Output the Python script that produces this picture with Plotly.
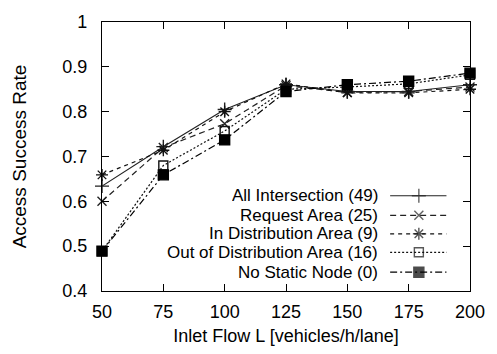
import plotly.graph_objects as go

inlet_flow = [50, 75, 100, 125, 150, 175, 200]
all_intersection = [0.634, 0.722, 0.805, 0.860, 0.845, 0.845, 0.860]
request_area = [0.600, 0.720, 0.773, 0.858, 0.843, 0.845, 0.855]
in_distribution = [0.659, 0.714, 0.800, 0.862, 0.842, 0.842, 0.850]
out_distribution = [0.489, 0.680, 0.757, 0.850, 0.855, 0.862, 0.882]
no_static_node = [0.489, 0.659, 0.737, 0.845, 0.860, 0.868, 0.886]

series_names = ["All Intersection (49)", "Request Area (25)", "In Distribution Area (9)",
                "Out of Distribution Area (16)", "No Static Node (0)"]
series_values = [all_intersection, request_area, in_distribution, out_distribution, no_static_node]

x_ticks = [50, 75, 100, 125, 150, 175, 200]
y_ticks = [0.4, 0.5, 0.6, 0.7, 0.8, 0.9, 1.0]
y_tick_text = ["0.4", "0.5", "0.6", "0.7", "0.8", "0.9", "1"]

styles = [
    dict(dash="solid", symbol="cross-thin", size=10, color="#222"),
    dict(dash="6px,4px", symbol="x-thin", size=9, color="#222"),
    dict(dash="4px,4px", symbol="asterisk", size=10, color="#111"),
    dict(dash="2px,2px", symbol="square-open", size=9, color="#111"),
    dict(dash="7px,3px,2px,3px", symbol="square", size=10, color="#000"),
]

FONT = "Liberation Sans, Arial, Helvetica, sans-serif"
fig = go.Figure()

for name, vals, st in zip(series_names, series_values, styles):
    fig.add_trace(go.Scatter(
        x=inlet_flow, y=vals, mode="lines+markers", name=name,
        line=dict(color=st["color"], width=1.2, dash=st["dash"]),
        marker=dict(symbol=st["symbol"], size=st["size"], color=st["color"],
                    line=dict(color=st["color"], width=1.4)),
        showlegend=False, cliponaxis=False,
    ))

# custom legend (text right-aligned, key sample on the right), gnuplot style
legend_rows = [0.354, 0.2815, 0.2127, 0.1438, 0.0699]
key_x = [0.783, 0.861, 0.936]
for name, st, ry in zip(series_names, styles, legend_rows):
    fig.add_annotation(x=0.753, y=ry, xref="paper", yref="paper", text=name,
                       showarrow=False, xanchor="right", yanchor="middle",
                       borderpad=0, height=17,
                       font=dict(family=FONT, size=17, color="black"))
    fig.add_trace(go.Scatter(
        x=key_x, y=[ry] * 3, xaxis="x2", yaxis="y2", mode="lines+markers",
        line=dict(color=st["color"], width=1.2, dash=st["dash"]),
        marker=dict(symbol=st["symbol"], size=[0, st["size"], 0], color=st["color"],
                    line=dict(color=st["color"], width=1.4)),
        showlegend=False, hoverinfo="skip",
    ))

axis_common = dict(showgrid=False, zeroline=False, showline=True, linecolor="black",
                   linewidth=1.2, mirror="ticks", ticks="inside", ticklen=7,
                   tickcolor="black", tickwidth=1.2, ticklabeloverflow="allow",
                   tickfont=dict(family=FONT, size=18, color="black"))

fig.update_layout(
    width=497, height=354,
    margin=dict(l=102, r=19, t=20, b=58),
    paper_bgcolor="white", plot_bgcolor="white",
    font=dict(family=FONT, size=18, color="black"),
    xaxis=dict(range=[50, 200], tickvals=x_ticks, ticklabelstandoff=4,
               title=dict(text="Inlet Flow L [vehicles/h/lane]", standoff=8,
                          font=dict(family=FONT, size=18, color="black")),
               **axis_common),
    yaxis=dict(range=[0.4, 1.0], tickvals=y_ticks, ticktext=y_tick_text, ticklabelstandoff=10,
               title=dict(text="Access Success Rate", standoff=30,
                          font=dict(family=FONT, size=19, color="black")),
               **axis_common),
    xaxis2=dict(range=[0, 1], overlaying="x", visible=False, fixedrange=True),
    yaxis2=dict(range=[0, 1], overlaying="y", visible=False, fixedrange=True),
    showlegend=False,
)

# remove the browser's default 8px page margin so the figure fills the window exactly
fig.write_html("out.html", config={"displayModeBar": False},
               post_script="document.body.style.margin='0';document.body.style.overflow='hidden';")
